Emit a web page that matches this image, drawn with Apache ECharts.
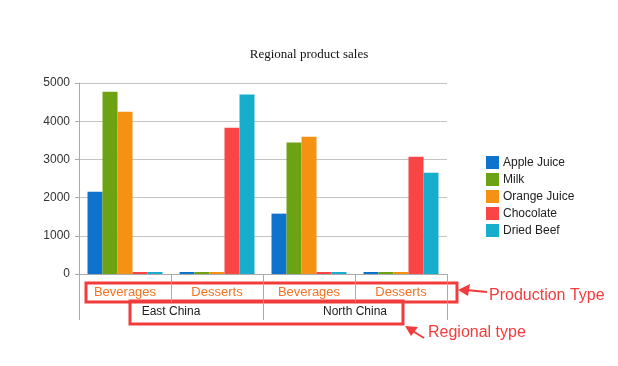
<!DOCTYPE html>
<html>
<head>
<meta charset="utf-8">
<script src="https://cdn.jsdelivr.net/npm/echarts@6/dist/echarts.min.js"></script>
<style>html,body{margin:0;padding:0;background:#fff}#c{width:618px;height:366px}</style>
</head>
<body>
<div id="c"></div>
<script>
var productTypes = ['Beverages', 'Desserts', 'Beverages', 'Desserts'];
var regions = ['East China', 'North China'];
var seriesNames = ['Apple Juice', 'Milk', 'Orange Juice', 'Chocolate', 'Dried Beef'];
var appleJuice = [2150, 0, 1580, 0];
var milk = [4770, 0, 3440, 0];
var orangeJuice = [4250, 0, 3590, 0];
var chocolate = [0, 3830, 0, 3070];
var driedBeef = [0, 4700, 0, 2650];
var yTicks = [0, 1000, 2000, 3000, 4000, 5000];

var values = [appleJuice, milk, orangeJuice, chocolate, driedBeef];
var colors = ['#0F72CD', '#6DA313', '#F59214', '#F94545', '#17AECE'];
var font = '"Liberation Sans", Arial, sans-serif';

var chart = echarts.init(document.getElementById('c'), null, {renderer: 'canvas'});
var series = seriesNames.map(function (n, i) {
  return {
    name: n, type: 'bar', xAxisIndex: 0, yAxisIndex: 0,
    data: values[i], barGap: '0%', barCategoryGap: '18.5%',
    barMinHeight: 2,
    itemStyle: {color: colors[i]},
    emphasis: {disabled: true}
  };
});

chart.setOption({
  animation: false,
  color: colors,
  title: {
    text: 'Regional product sales', left: 'center', top: 43,
    textStyle: {fontFamily: '"Liberation Serif", "Times New Roman", serif', fontWeight: 'normal', fontSize: 13, color: '#111'}
  },
  legend: {
    orient: 'vertical', left: 481, top: 151,
    icon: 'rect', itemWidth: 13, itemHeight: 13, itemGap: 4,
    textStyle: {fontFamily: font, fontSize: 12, color: '#222', padding: [0, 0, 0, -1]},
    data: seriesNames
  },
  grid: {left: 79, right: 171, top: 83, bottom: 92, containLabel: false, outerBoundsMode: 'none'},
  xAxis: [{
    type: 'category', data: productTypes, position: 'bottom',
    axisLine: {show: true, lineStyle: {color: '#aaa'}},
    axisTick: {show: true, interval: 0, length: 28, lineStyle: {color: '#aaa'}},
    axisLabel: {interval: 0, margin: 12, color: '#F47320', fontFamily: font, fontSize: 13}
  }, {
    type: 'category', data: regions, position: 'bottom',
    axisLine: {show: false},
    axisTick: {show: true, interval: 0, length: 46, lineStyle: {color: '#aaa'}},
    axisLabel: {interval: 0, margin: 32, color: '#222', fontFamily: font, fontSize: 12}
  }],
  yAxis: {
    type: 'value', min: yTicks[0], max: yTicks[yTicks.length - 1], interval: 1000,
    axisLine: {show: true, lineStyle: {color: '#aaa'}},
    axisTick: {show: true, length: 4, lineStyle: {color: '#aaa'}},
    axisLabel: {margin: 9, color: '#333', fontFamily: font, fontSize: 12, formatter: function (v) { return String(v); }},
    splitLine: {lineStyle: {color: '#c4c4c4'}}
  },
  graphic: [
    {type: 'rect', shape: {x: 86, y: 283, width: 371, height: 19}, style: {fill: 'none', stroke: '#F23C3C', lineWidth: 3}},
    {type: 'rect', shape: {x: 130, y: 301, width: 273, height: 23}, style: {fill: 'none', stroke: '#F23C3C', lineWidth: 3}},
    {type: 'line', shape: {x1: 487, y1: 292, x2: 466, y2: 290}, style: {stroke: '#F23C3C', lineWidth: 2}},
    {type: 'polygon', shape: {points: [[458, 290], [470, 284], [468, 296]]}, style: {fill: '#F23C3C'}},
    {type: 'line', shape: {x1: 424, y1: 338, x2: 411, y2: 330}, style: {stroke: '#F23C3C', lineWidth: 2}},
    {type: 'polygon', shape: {points: [[405, 326], [418, 327], [411, 336]]}, style: {fill: '#F23C3C'}},
    {type: 'text', x: 489, y: 296, style: {text: 'Production Type', fill: '#F23C3C', font: '16px "Liberation Sans", Arial, sans-serif', textVerticalAlign: 'middle'}},
    {type: 'text', x: 428, y: 333, style: {text: 'Regional type', fill: '#F23C3C', font: '16px "Liberation Sans", Arial, sans-serif', textVerticalAlign: 'middle'}}
  ],
  series: series
});
</script>
</body>
</html>
